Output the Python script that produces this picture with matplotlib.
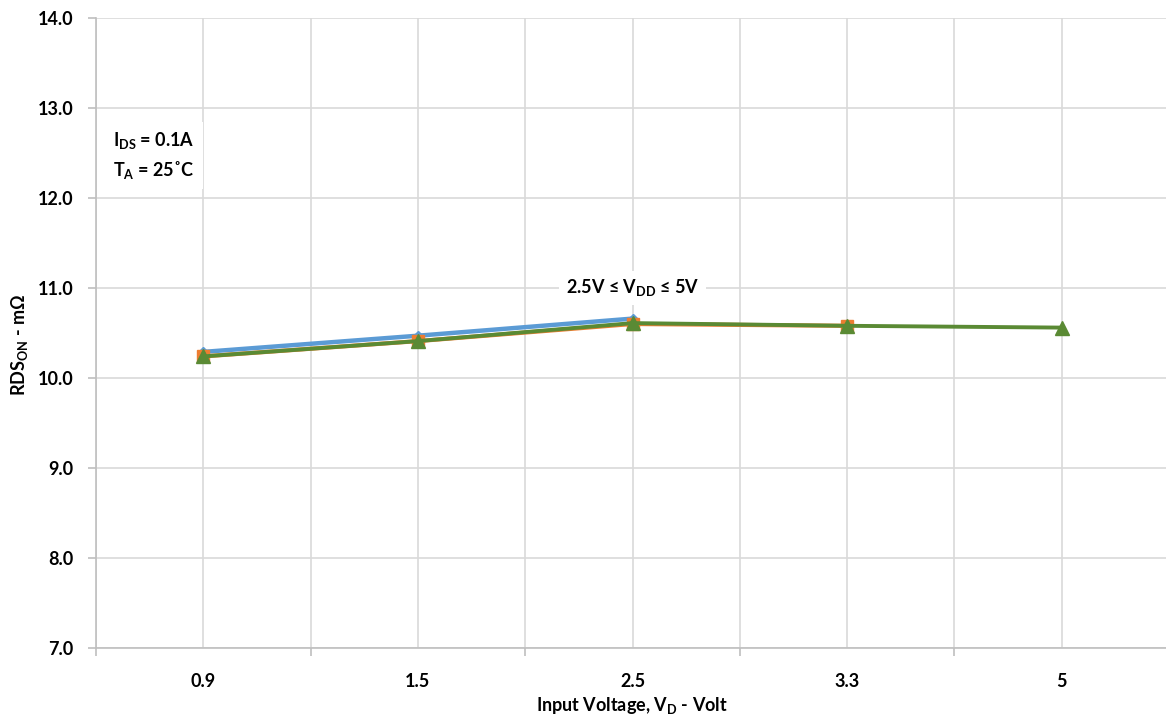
import numpy as np
import matplotlib
matplotlib.use("Agg")
import matplotlib.pyplot as plt

plt.rcParams['font.family'] = ['Lato', 'DejaVu Sans']
plt.rcParams['font.weight'] = 'bold'
plt.rcParams['mathtext.default'] = 'regular'

# input voltage categories
cats = ["0.9", "1.5", "2.5", "3.3", "5"]

# RDS_ON (mOhm) per supply voltage
rds_a = [10.29, 10.47, 10.66]              # blue
rds_b = [10.24, 10.41, 10.60, 10.58]       # orange
rds_c = [10.24, 10.41, 10.61, 10.58, 10.56]  # green

yticks = [7.0, 8.0, 9.0, 10.0, 11.0, 12.0, 13.0, 14.0]

fig = plt.figure(figsize=(11.66, 7.19), dpi=100)
ax = fig.add_axes([96/1166, 71/719, 1073/1166, 630/719])

x = np.arange(len(cats))
ax.plot(x[:len(rds_a)], rds_a, color='#5b9bd5', lw=3.2, marker='D', ms=5, zorder=3)
ax.plot(x[:len(rds_b)], rds_b, color='#ed7d31', lw=3.0, marker='s', ms=9, zorder=4)
ax.plot(x[:len(rds_c)], rds_c, color='#5a8a34', lw=2.8, marker='^', ms=10, zorder=5)

ax.set_xlim(-0.5, len(cats) - 0.5)
ax.set_ylim(7.0, 14.0)
ax.set_yticks(yticks)
ax.set_yticklabels([f"{v:.1f}" for v in yticks], fontsize=13, fontweight='bold')
ax.set_xticks(x)
ax.set_xticklabels(cats, fontsize=13, fontweight='bold')
ax.set_xticks(np.arange(-0.5, len(cats), 1.0), minor=True)

ax.grid(True, which='both', axis='x', color='#d9d9d9', lw=1.2, zorder=0)
ax.grid(True, which='major', axis='y', color='#d9d9d9', lw=1.2, zorder=0)
ax.tick_params(axis='x', which='major', length=0, pad=18)
ax.tick_params(axis='x', which='minor', length=6, color='#bfbfbf', width=1.2)
ax.tick_params(axis='y', length=6, color='#bfbfbf', width=1.2, pad=10)
for s in ['top', 'right']:
    ax.spines[s].set_visible(False)
for s in ['left', 'bottom']:
    ax.spines[s].set_color('#bfbfbf')
    ax.spines[s].set_linewidth(1.2)
ax.set_axisbelow(True)

ax.set_ylabel("RDS$_{ON}$ - m\u03a9", fontsize=13, fontweight='bold')
ax.yaxis.set_label_coords(-(96 - 30) / 1073, (648 - 345) / 630)
ax.set_xlabel("Input Voltage, V$_{D}$ - Volt", fontsize=13, fontweight='bold')
ax.xaxis.set_label_coords((632 - 96) / 1073, -(705 - 648) / 630)
ax.xaxis.label.set_va('center')

ax.text(-0.42, 12.47, "I$_{DS}$ = 0.1A\nT$_{A}$ = 25\u02daC", fontsize=13, fontweight='bold',
        va='center', ha='left', linespacing=1.45,
        bbox=dict(facecolor='white', edgecolor='none', pad=6), zorder=6)
ax.text(2.0, 11.0, "2.5V \u2264 V$_{DD}$ \u2264 5V", fontsize=13, fontweight='bold',
        va='center', ha='center',
        bbox=dict(facecolor='white', edgecolor='none', pad=5), zorder=6)

fig.savefig("out.png", dpi=100)
